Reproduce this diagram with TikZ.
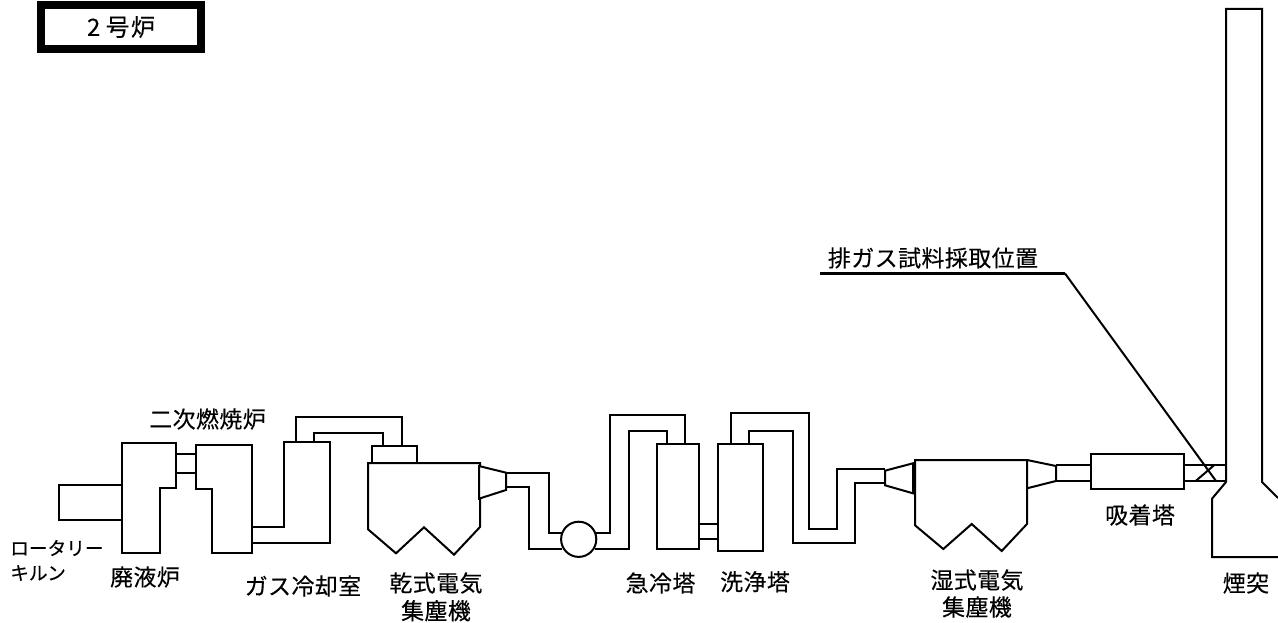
\documentclass[tikz,border=0pt]{standalone}
\usepackage{fontspec}
\setmainfont{Noto Sans CJK JP}[LetterSpace=2,FakeBold=0.25]
\newfontfamily\smalljp{Noto Sans CJK JP}[FakeBold=0.25]
\tikzset{
  eq/.style={draw=black,line width=1.5pt,line join=miter,fill=none},
  lbl/.style={inner sep=0pt,font=\fontsize{17.2pt}{20pt}\selectfont,text=black},
  slbl/.style={inner sep=0pt,anchor=west,font=\smalljp\fontsize{14pt}{16pt}\selectfont,text=black}
}
\begin{document}
\begin{tikzpicture}[x=0.75pt,y=-0.75pt]
\useasboundingbox (0,0) rectangle (1278,623);
% title
\node[draw=black,line width=5.7pt,minimum width=119.6pt,minimum height=33.2pt,inner sep=0pt,font=\fontsize{18pt}{20pt}\selectfont] (title) at (121,27) {2\hspace{4pt}号\hspace{1pt}炉};
% kiln
\draw[eq] (122,485) -- (59,485) -- (59,520) -- (122,520);
% waste liquid furnace
\draw[eq] (122,443) -- (176,443) -- (176,488) -- (160,488) -- (160,553) -- (122,553) -- cycle;
\draw[eq] (176,454) -- (196,454) (176,473) -- (196,473);
% secondary combustion
\draw[eq] (196,445) -- (252,445) -- (252,553) -- (212,553) -- (212,489) -- (196,489) -- cycle;
% gas cooler
\draw[eq] (252,527) -- (284,527) -- (284,442) -- (330,442) -- (330,543) -- (252,543);
\draw[eq] (296,442) -- (296,417) -- (402,417) -- (402,446);
\draw[eq] (314,442) -- (314,433) -- (383,433) -- (383,446);
% dry ESP
\draw[eq] (372,463) -- (372,446) -- (417,446) -- (417,463);
\draw[eq] (368,463) -- (480,463) -- (480,527) -- (454,554.7) -- (424,527.3) -- (396,553.3) -- (368,529.3) -- cycle;
\draw[eq,fill=white] (479,466) -- (506,472.7) -- (506,490) -- (479,498.7) -- cycle;
\draw[eq] (506,473) -- (549,473) -- (549,533) -- (562,533);
\draw[eq] (506,487) -- (529,487) -- (529,549) -- (562,549);
% blower
\node[draw=black,line width=1.5pt,circle,minimum size=26.4pt,inner sep=0pt] (blower) at (578.7,539.3) {};
\draw[eq] (595,533) -- (610,533) -- (610,415) -- (685,415) -- (685,444);
\draw[eq] (595,549) -- (629,549) -- (629,431) -- (667,431) -- (667,444);
% quench tower
\draw[eq] (657,444) rectangle (699,549);
\draw[eq] (699,524) -- (718,524) (699,539) -- (718,539);
% scrubber
\draw[eq] (718,444) rectangle (763,551);
\draw[eq] (731,444) -- (731,413) -- (809,413) -- (809,529) -- (837,529) -- (837,469) -- (885,469);
\draw[eq] (749,444) -- (749,431) -- (793,431) -- (793,543) -- (855,543) -- (855,483) -- (885,483);
% wet ESP
\draw[eq] (885,470.7) -- (913,463.3) -- (913,493.3) -- (885,485.3) -- cycle;
\draw[eq] (915,460) -- (1027,460) -- (1027,524) -- (1001.7,551) -- (971.7,524) -- (943.3,549) -- (915,525.3) -- cycle;
\draw[eq] (1027,460) -- (1056,466) -- (1056,481) -- (1027,488.3);
% adsorption tower
\draw[eq] (1056,465) -- (1091,465) (1056,481) -- (1091,481);
\draw[eq] (1091,454) rectangle (1184,489);
\draw[eq] (1184,465) -- (1226,465) (1184,481) -- (1226,481);
\draw[eq] (1195.7,481) -- (1214.3,465);
% leader
\draw[draw=black,line width=2pt] (820,273.5) -- (1065,273.5);
\draw[eq] (1065,273.5) -- (1216,481);
% stack
\draw[eq] (1278,498) -- (1262,482) -- (1262,9) -- (1226,9) -- (1226,482) -- (1212,498.7) -- (1212,557) -- (1278,557);
% labels
\node[lbl] (n1) at (933,258) {排ガス試料採取位置};
\node[lbl] (n2) at (207.5,419) {二次燃焼炉};
\node[slbl] (n3) at (10,548) {ロータリー};
\node[slbl] (n4) at (10,573) {キルン};
\node[lbl] (n5) at (145,577) {廃液炉};
\node[lbl] (n6) at (303,586) {ガス冷却室};
\node[lbl] (n7) at (436,583) {乾式電気};
\node[lbl] (n8) at (436,610.7) {集塵機};
\node[lbl] (n9) at (660.5,583) {急冷塔};
\node[lbl] (n10) at (755,581.7) {洗浄塔};
\node[lbl] (n11) at (977,580) {湿式電気};
\node[lbl] (n12) at (977,607) {集塵機};
\node[lbl] (n13) at (1140,515) {吸着塔};
\node[lbl] (n14) at (1246,583) {煙突};
\end{tikzpicture}
\end{document}
